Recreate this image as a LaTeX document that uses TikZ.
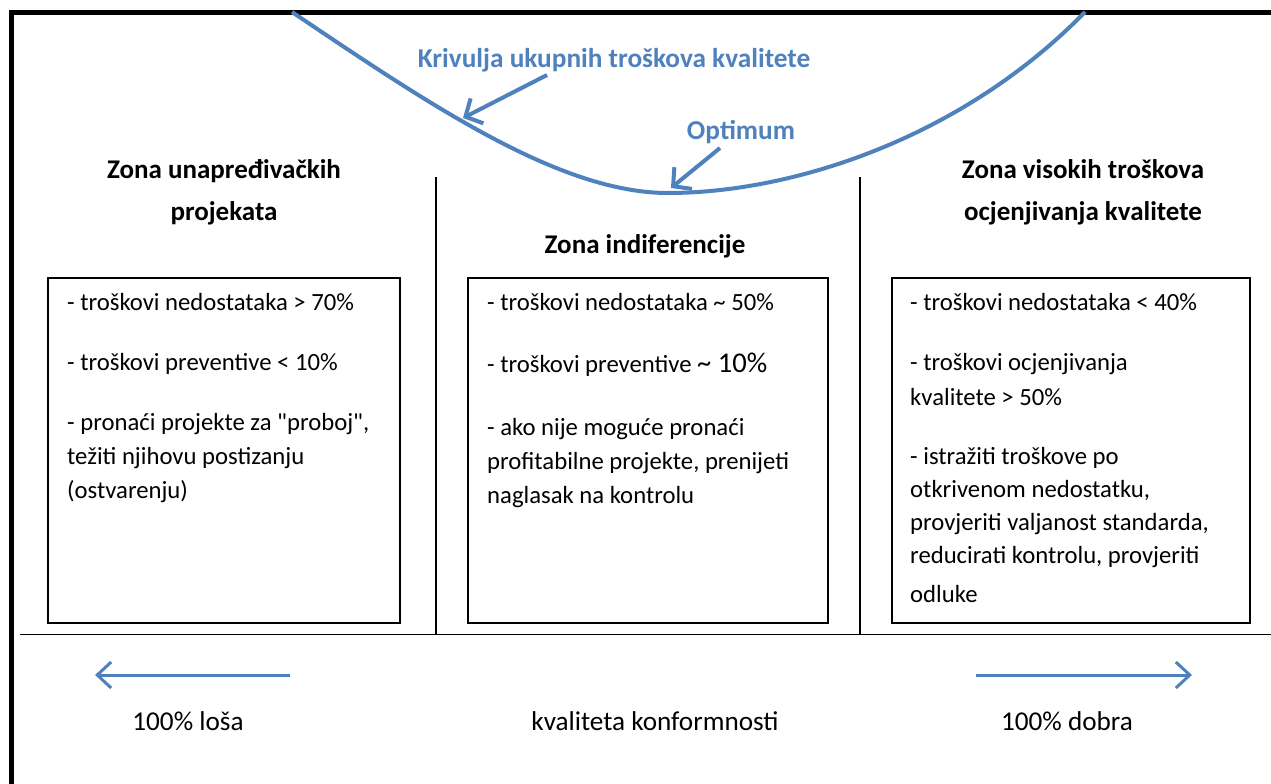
\documentclass[tikz,border=0pt]{standalone}
\usepackage{fontspec}
\setmainfont{Carlito}[Ligatures=TeXOff]
\usetikzlibrary{arrows.meta}
\definecolor{curveblue}{HTML}{4F81BD}
\begin{document}
\begin{tikzpicture}[x=1pt,y=-1pt,
  body/.style={font=\fontsize{24.7}{29}\selectfont, inner sep=0pt, anchor=base west},
  head/.style={font=\bfseries\fontsize{27}{32}\selectfont, inner sep=0pt, anchor=base},
  bluelabel/.style={font=\bfseries\fontsize{27.3}{32}\selectfont, text=curveblue, inner sep=0pt, anchor=base},
  axislabel/.style={font=\fontsize{27.2}{32}\selectfont, inner sep=0pt, anchor=base},
  zonebox/.style={draw, line width=1.5pt, inner sep=0pt},
  sepline/.style={draw, line width=1.3pt},
  curveline/.style={draw=curveblue, line width=4pt},
  curvearrow/.style={draw=curveblue, line width=4pt, -{Straight Barb[length=13pt,width=28pt]}},
  axisarrow/.style={draw=curveblue, line width=3pt, -{Straight Barb[length=14pt,width=26pt]}}
]
\useasboundingbox (0,0) rectangle (1271,784);
% outer frame
\coordinate (frameBL) at (11.5,784);
\coordinate (frameTL) at (11.5,12.5);
\coordinate (frameTR) at (1271,12.5);
\draw[line width=5pt] (frameBL) -- (frameTL) -- (frameTR);

% total cost curve
\coordinate (cStart) at (292,12);
\coordinate (cMin) at (668,193);
\coordinate (cEnd) at (1085,12);
\draw[curveline] (cStart) .. controls (430,105) and (560,193) .. (cMin)
  .. controls (790,193) and (960,140) .. (cEnd);

% curve labels and arrows
\node[bluelabel] (lblcurve) at (614,67) {Krivulja ukupnih troškova kvalitete};
\node[bluelabel] (lblopt) at (741,139) {Optimum};
\coordinate (aCurveFrom) at (547,75);
\coordinate (aCurveTo) at (463,118);
\coordinate (aOptFrom) at (720,148);
\coordinate (aOptTo) at (671,188);
\draw[curvearrow] (aCurveFrom) -- (aCurveTo);
\draw[curvearrow] (aOptFrom) -- (aOptTo);

% separators
\coordinate (v1t) at (436,177);
\coordinate (v1b) at (436,634);
\coordinate (v2t) at (860,177);
\coordinate (v2b) at (860,634);
\coordinate (hl) at (20,634.5);
\coordinate (hr) at (1271,634.5);
\draw[sepline] (v1t) -- (v1b);
\draw[sepline] (v2t) -- (v2b);
\draw[sepline] (hl) -- (hr);

% headings
\node[head] (h1a) at (224,178) {Zona unapređivačkih};
\node[head] (h1b) at (224,220) {projekata};
\node[head] (h2) at (645,253) {Zona indiferencije};
\node[head] (h3a) at (1083,178) {Zona visokih troškova};
\node[head] (h3b) at (1083,220) {ocjenjivanja kvalitete};

% boxes
\node[zonebox, minimum width=352pt, minimum height=345pt] (boxL) at (224,450.5) {};
\node[zonebox, minimum width=360pt, minimum height=345pt] (boxM) at (648,450.5) {};
\node[zonebox, minimum width=358pt, minimum height=345pt] (boxR) at (1071,450.5) {};

% left box text
\node[body] (l1) at (67,310) {- troškovi nedostataka > 70\%};
\node[body] (l2) at (67,370) {- troškovi preventive < 10\%};
\node[body] (l3) at (67,430) {- pronaći projekte za "proboj",};
\node[body] (l4) at (67,464) {težiti njihovu postizanju};
\node[body] (l5) at (67,498) {(ostvarenju)};

% middle box text
\node[body] (m1) at (487,310) {- troškovi nedostataka \textasciitilde{} 50\%};
\node[body] (m2) at (487,372) {- troškovi preventive {\fontsize{28.6}{33}\selectfont\textasciitilde{} 10\%}};
\node[body] (m3) at (487,435) {- ako nije moguće pronaći};
\node[body] (m4) at (487,469) {profitabilne projekte, prenijeti};
\node[body] (m5) at (487,503) {naglasak na kontrolu};

% right box text
\node[body] (r1) at (910,310) {- troškovi nedostataka < 40\%};
\node[body] (r2) at (910,370) {- troškovi ocjenjivanja};
\node[body] (r3) at (910,405) {kvalitete > 50\%};
\node[body] (r4) at (910,464) {- istražiti troškove po};
\node[body] (r5) at (910,497) {otkrivenom nedostatku,};
\node[body] (r6) at (910,530) {provjeriti valjanost standarda,};
\node[body] (r7) at (910,563) {reducirati kontrolu, provjeriti};
\node[body] (r8) at (910,602) {odluke};

% bottom axis
\coordinate (laFrom) at (290,675);
\coordinate (laTo) at (95,675);
\coordinate (raFrom) at (976,675);
\coordinate (raTo) at (1192,675);
\draw[axisarrow] (laFrom) -- (laTo);
\draw[axisarrow] (raFrom) -- (raTo);
\node[axislabel] (bad) at (188,730) {100\% loša};
\node[axislabel] (axis) at (655,730) {kvaliteta konformnosti};
\node[axislabel] (good) at (1067,730) {100\% dobra};
\end{tikzpicture}
\end{document}
